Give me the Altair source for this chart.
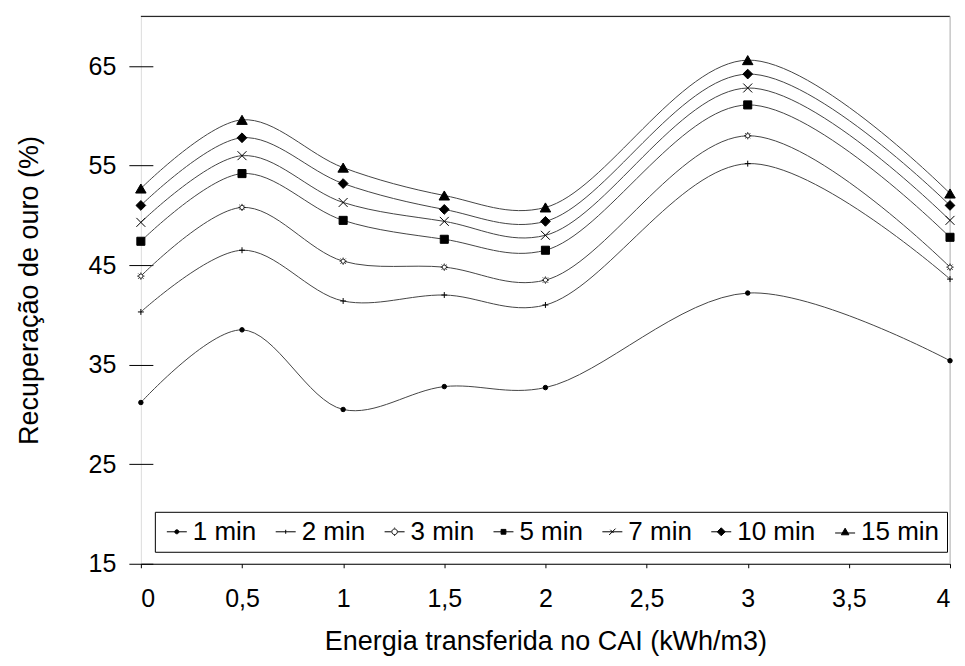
import altair as alt
import pandas as pd

# ---- data ----
energy = [0, 0.5, 1, 1.5, 2, 3, 4]
series_names = ["1 min", "2 min", "3 min", "5 min", "7 min", "10 min", "15 min"]
rec_1 = [31.2, 38.5, 30.5, 32.8, 32.7, 42.2, 35.4]
rec_2 = [40.3, 46.5, 41.4, 42.0, 41.0, 55.2, 43.6]
rec_3 = [43.9, 50.8, 45.4, 44.8, 43.5, 58.0, 44.8]
rec_5 = [47.4, 54.2, 49.5, 47.6, 46.5, 61.1, 47.8]
rec_7 = [49.3, 56.0, 51.3, 49.4, 48.0, 62.8, 49.5]
rec_10 = [51.0, 57.8, 53.2, 50.6, 49.4, 64.2, 51.0]
rec_15 = [52.7, 59.6, 54.8, 52.0, 50.8, 65.6, 52.2]
x_ticks = [0, 0.5, 1, 1.5, 2, 2.5, 3, 3.5, 4]
y_ticks = [15, 25, 35, 45, 55, 65]

all_series = [rec_1, rec_2, rec_3, rec_5, rec_7, rec_10, rec_15]
rows = []
for name, vals in zip(series_names, all_series):
    for e, v in zip(energy, vals):
        rows.append({"energia": e, "rec": v, "serie": name})
df = pd.DataFrame(rows)

FONT = "Liberation Sans"

# marker shapes (plot)
PLUS = "M-1,0H1M0,-1V1"
SUN = ("M0.6,0A0.6,0.6 0 1,1 -0.6,0A0.6,0.6 0 1,1 0.6,0Z"
       "M0.75,0H1M-0.75,0H-1M0,0.75V1M0,-0.75V-1"
       "M0.53,0.53L0.71,0.71M-0.53,-0.53L-0.71,-0.71"
       "M0.53,-0.53L0.71,-0.71M-0.53,0.53L-0.71,0.71")
XSH = "M-1,-1L1,1M-1,1L1,-1"
pt_shapes = ["circle", PLUS, SUN, "square", XSH, "diamond", "triangle-up"]
pt_sizes = [20, 110, 150, 50, 55, 85, 85]
pt_fills = ["black", "black", "white", "black", "black", "black", "black"]
pt_strokes = ["black"] * 7

# legend symbols: short line with marker
lg_shapes = [
    "M-2.5,0H2.5M0.5,0A0.5,0.5 0 1,1 -0.5,0A0.5,0.5 0 1,1 0.5,0Z",
    "M-2.5,0H2.5M0,-0.5V0.5",
    "M-2.5,0H-1M1,0H2.5M0.7,0A0.7,0.7 0 1,1 -0.7,0A0.7,0.7 0 1,1 0.7,0Z"
    "M0.85,0H1.05M-0.85,0H-1.05M0,0.85V1.05M0,-0.85V-1.05",
    "M-2.5,0H2.5M-0.6,-0.6H0.6V0.6H-0.6Z",
    "M-2.5,0H2.5M-0.8,0.8L0.8,-0.8M-0.5,-0.5L0.3,0.3",
    "M-2.5,0H2.5M0,-1L1,0L0,1L-1,0Z",
    "M-2.5,0.3H2.5M0,-0.9L0.95,0.75L-0.95,0.75Z",
]

xscale = alt.Scale(domain=[0, 4], nice=False, zero=False)
yscale = alt.Scale(domain=[15, 70], nice=False, zero=False)

x_enc = alt.X(
    "energia:Q", scale=xscale,
    axis=alt.Axis(
        title="Energia transferida no CAI (kWh/m3)", values=x_ticks,
        labelExpr="replace(toString(datum.value), '.', ',')",
        grid=False, domainColor="black", tickColor="black", tickSize=4,
        labelFontSize=25, labelPadding=19, labelColor="black",
        titleFontSize=27, titleFontWeight="normal", titleColor="black",
        titlePadding=17, labelFont=FONT, titleFont=FONT,
    ),
)
y_enc = alt.Y(
    "rec:Q", scale=yscale,
    axis=alt.Axis(
        title="Recuperação de ouro (%)", values=y_ticks, grid=False,
        domain=False, offset=-12, tickSize=24, tickColor="black",
        labelFontSize=25, labelPadding=13, labelColor="black",
        titleFontSize=27, titleFontWeight="normal", titleColor="black",
        titlePadding=45, labelFont=FONT, titleFont=FONT,
    ),
)

base = alt.Chart(df)

top_rule = alt.Chart(pd.DataFrame({"v": [70]})).mark_rule(
    color="black", strokeWidth=1
).encode(y=alt.Y("v:Q", scale=yscale))
right_rule = alt.Chart(pd.DataFrame({"v": [4]})).mark_rule(
    color="#bbbbbb", strokeWidth=1
).encode(x=alt.X("v:Q", scale=xscale))

lines = base.mark_line(
    interpolate="catmull-rom", color="#444444", strokeWidth=1
).encode(x=x_enc, y=y_enc, detail="serie:N")

points = base.mark_point(
    filled=True, stroke="black", strokeWidth=1, opacity=1
).encode(
    x=x_enc, y=y_enc,
    shape=alt.Shape("serie:N", scale=alt.Scale(domain=series_names, range=pt_shapes), legend=None),
    fill=alt.Fill("serie:N", scale=alt.Scale(domain=series_names, range=pt_fills), legend=None),
    size=alt.Size("serie:N", scale=alt.Scale(domain=series_names, range=pt_sizes), legend=None),
)

leg = alt.Legend(
    title=None, orient="none", legendX=14, legendY=496, direction="horizontal",
    strokeColor="black", fillColor="white", padding=7,
    labelFontSize=26, labelFont=FONT, labelColor="black",
    symbolSize=64, symbolStrokeWidth=1,
    symbolOffset=2, labelOffset=3, columnPadding=14,
)
legend_layer = base.transform_filter("datum.rec < 0").mark_point(
    filled=True, strokeWidth=1, opacity=1
).encode(
    x=x_enc, y=y_enc,
    shape=alt.Shape("serie:N", scale=alt.Scale(domain=series_names, range=lg_shapes), legend=leg),
    fill=alt.Fill("serie:N", scale=alt.Scale(domain=series_names, range=pt_fills), legend=leg),
    stroke=alt.Stroke("serie:N", scale=alt.Scale(domain=series_names, range=pt_strokes), legend=leg),
)

chart = alt.layer(top_rule, right_rule, lines, points, legend_layer).resolve_scale(
    shape="independent", fill="independent", size="independent", stroke="independent"
).properties(
    width=810, height=548,
    autosize=alt.AutoSizeParams(type="none"),
    padding={"left": 133, "top": 8, "right": 7, "bottom": 94},
).configure_view(stroke=None).configure(font=FONT, background="white")

chart.save("out.html", embed_options={"renderer": "svg", "actions": False})
